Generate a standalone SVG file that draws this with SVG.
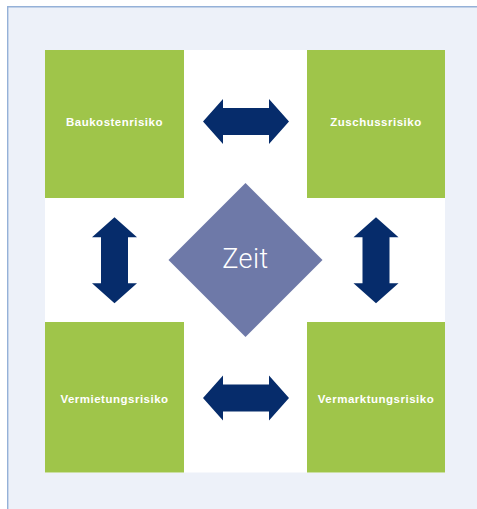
<svg xmlns="http://www.w3.org/2000/svg" width="477" height="509" viewBox="0 0 477 509">
  <style>
    .box { fill: #9FC54A; }
    .label { font-family: "Liberation Sans", Arial, sans-serif; font-weight: bold; font-size: 11.5px; fill: #FFFFFF; text-anchor: middle; letter-spacing: 0.5px; }
    .arrow { fill: #062C6B; }
    .hub { fill: #6E79A8; }
    .hub-label { font-family: Roboto, "Open Sans", sans-serif; font-weight: 300; font-size: 27px; fill: #FFFFFF; text-anchor: middle; letter-spacing: 0.5px; }
  </style>
  <defs>
    <!-- double-headed arrow, horizontal, centred at 0,0 -->
    <polygon id="dbl-arrow" points="-43,0 -23,-22.5 -23,-13.5 23,-13.5 23,-22.5 43,0 23,22.5 23,13.5 -23,13.5 -23,22.5"/>
  </defs>

  <!-- page panel -->
  <rect x="0" y="0" width="477" height="509" fill="#FFFFFF"/>
  <rect x="7" y="6" width="470" height="503" fill="#EDF1F9"/>
  <line x1="7" y1="6.7" x2="477" y2="6.7" stroke="#95B1D8" stroke-width="1.4"/>
  <line x1="7.7" y1="6" x2="7.7" y2="509" stroke="#95B1D8" stroke-width="1.4"/>

  <!-- diagram field -->
  <rect x="45" y="50" width="400" height="422.5" fill="#FFFFFF"/>

  <g id="baukosten">
    <rect class="box" x="45" y="50" width="139" height="148"/>
    <text class="label" x="114.5" y="126">Baukostenrisiko</text>
  </g>
  <g id="zuschuss">
    <rect class="box" x="307" y="50" width="138" height="148"/>
    <text class="label" x="376" y="126">Zuschussrisiko</text>
  </g>
  <g id="vermietung">
    <rect class="box" x="45" y="322" width="139" height="150.5"/>
    <text class="label" x="114.5" y="403">Vermietungsrisiko</text>
  </g>
  <g id="vermarktung">
    <rect class="box" x="307" y="322" width="138" height="150.5"/>
    <text class="label" x="376" y="403">Vermarktungsrisiko</text>
  </g>

  <g id="zeit">
    <polygon class="hub" points="245.5,183 322.5,260 245.5,337 168.5,260"/>
    <text class="hub-label" x="245.5" y="268">Zeit</text>
  </g>

  <g id="connectors" class="arrow">
    <use href="#dbl-arrow" transform="translate(246,121.5)"/>
    <use href="#dbl-arrow" transform="translate(246,398)"/>
    <use href="#dbl-arrow" transform="translate(114.5,260.3) rotate(90)"/>
    <use href="#dbl-arrow" transform="translate(376,260.3) rotate(90)"/>
  </g>
</svg>
